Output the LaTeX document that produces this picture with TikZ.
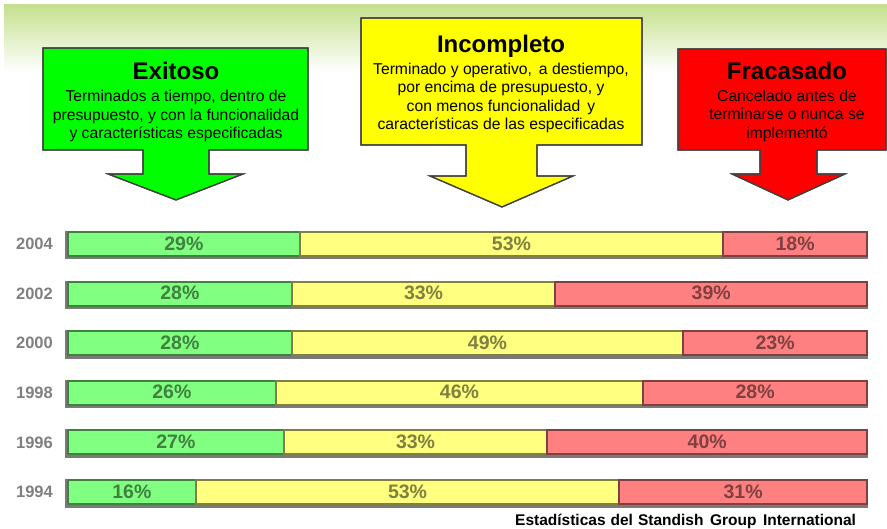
\documentclass[tikz,border=0pt]{standalone}
\usepackage{fontspec}
\setmainfont{Liberation Sans}
\definecolor{gfill}{HTML}{80FF80}
\definecolor{gdark}{HTML}{408040}
\definecolor{yfill}{HTML}{FFFF80}
\definecolor{ydark}{HTML}{808040}
\definecolor{rfill}{HTML}{FF8080}
\definecolor{rdark}{HTML}{804040}
\definecolor{bandtop}{HTML}{C5E08F}
\definecolor{agreen}{HTML}{00FF00}
\definecolor{ayellow}{HTML}{FFFF00}
\definecolor{ared}{HTML}{FF0000}
\definecolor{yeargray}{HTML}{808080}
\definecolor{bargray}{HTML}{7A7A7A}
\begin{document}
\begin{tikzpicture}[x=1pt,y=-1pt,
  bigarrow/.style={draw=black!75,line width=1.2pt,line join=miter},
  titletext/.style={inner sep=0pt,anchor=base,font=\fontsize{24}{28}\selectfont\bfseries},
  bodytext/.style={inner sep=0pt,anchor=north,align=center,font=\fontsize{15.7}{18.5}\selectfont},
  seg/.style={minimum height=24pt,inner sep=0pt,outer sep=0pt,line width=2pt,anchor=west,
     font=\fontsize{19.5}{22}\selectfont\bfseries},
  yearlbl/.style={inner sep=0pt,anchor=east,text=yeargray,font=\fontsize{16.5}{18}\selectfont\bfseries},
  footer/.style={inner sep=0pt,anchor=base west,font=\fontsize{15.5}{18}\selectfont\bfseries}]
\useasboundingbox (0,0) rectangle (887,529);
\fill[white] (0,0) rectangle (887,529);
\shade[top color=bandtop,bottom color=white] (4,5) rectangle (887,72);

% green arrow
\fill[bigarrow,fill=agreen] (43,48) -- (308,48) -- (308,150) -- (209,150) -- (209,174) -- (243,174) -- (176,200) -- (108,174) -- (143,174) -- (143,150) -- (43,150) -- cycle;
% yellow arrow
\fill[bigarrow,fill=ayellow] (361,18) -- (642,18) -- (642,145) -- (537,145) -- (537,176) -- (573,176) -- (502,207) -- (430,176) -- (466,176) -- (466,145) -- (361,145) -- cycle;
% red arrow
\fill[bigarrow,fill=ared] (678,49) -- (886,49) -- (886,150) -- (817,150) -- (817,174) -- (845,174) -- (788,200) -- (732,174) -- (760,174) -- (760,150) -- (678,150) -- cycle;
\draw[bigarrow] (43,48) -- (308,48) -- (308,150) -- (209,150) -- (209,174) -- (243,174) -- (176,200) -- (108,174) -- (143,174) -- (143,150) -- (43,150) -- cycle;
\draw[bigarrow] (361,18) -- (642,18) -- (642,145) -- (537,145) -- (537,176) -- (573,176) -- (502,207) -- (430,176) -- (466,176) -- (466,145) -- (361,145) -- cycle;
\draw[bigarrow] (678,49) -- (886,49) -- (886,150) -- (817,150) -- (817,174) -- (845,174) -- (788,200) -- (732,174) -- (760,174) -- (760,150) -- (678,150) -- cycle;

\node[titletext] (t1) at (176,80) {Exitoso};
\node[bodytext] (b1) at (176,90) {Terminados a tiempo, dentro de\\presupuesto, y con la funcionalidad\\y características especificadas};
\node[titletext] (t2) at (501,53) {Incompleto};
\node[bodytext] (b2) at (501,62.5) {Terminado y operativo, \,a destiempo,\\por encima de presupuesto, y\\con menos funcionalidad \,y\\características de las especificadas};
\node[titletext] (t3) at (787,80) {Fracasado};
\node[bodytext] (b3) at (787,89.5) {Cancelado antes de\\terminarse o nunca se\\implementó};

\foreach \i/\yr/\g/\yy/\r in {0/2004/29/53/18, 1/2002/28/33/39, 2/2000/28/49/23, 3/1998/26/46/28, 4/1996/27/33/40, 5/1994/16/53/31} {
  \pgfmathsetmacro\c{244+49.6*\i}
  \pgfmathsetmacro\wg{7.99*\g}
  \pgfmathsetmacro\wy{7.99*\yy}
  \pgfmathsetmacro\wr{799-\wg-\wy}
  \pgfmathsetmacro\xy{68+\wg}
  \pgfmathsetmacro\xr{68+\wg+\wy}
  \fill[bargray] (65,{\c-13}) rectangle (868,{\c+15.5});
  \node[yearlbl] (y\yr) at (53,\c) {\yr};
  \node[seg,fill=gfill,draw=gdark,text=gdark,minimum width=\wg pt] (g\yr) at (68,\c) {\raisebox{1.5pt}{\g\%}};
  \node[seg,fill=yfill,draw=ydark,text=ydark,minimum width=\wy pt] (m\yr) at (\xy,\c) {\raisebox{1.5pt}{\yy\%}};
  \node[seg,fill=rfill,draw=rdark,text=rdark,minimum width=\wr pt] (r\yr) at (\xr,\c) {\raisebox{1.5pt}{\r\%}};
}

\node[footer] (src) at (515,525) {Estadísticas\hspace{5pt}del\hspace{5pt}Standish\hspace{6.5pt}Group\hspace{6.5pt}International};
\end{tikzpicture}
\end{document}
